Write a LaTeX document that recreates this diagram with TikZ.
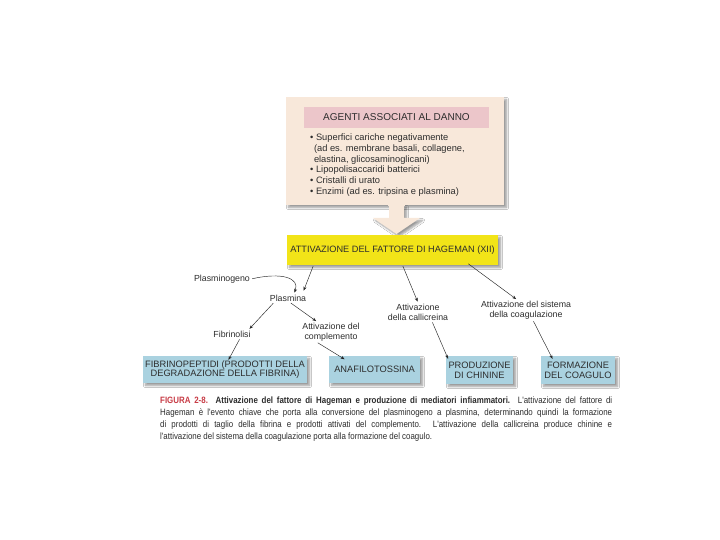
\documentclass[tikz,border=0pt]{standalone}
\usepackage{fontspec}
\setmainfont{Liberation Sans}
\newfontfamily\narrowfont[FakeStretch=0.86]{Liberation Sans}
\usetikzlibrary{arrows.meta,shadows.blur,calc}
\definecolor{beige}{RGB}{248,232,218}
\definecolor{pinkhead}{RGB}{236,198,202}
\definecolor{yelbox}{RGB}{242,228,24}
\definecolor{bluebox}{RGB}{170,210,224}
\definecolor{txt}{RGB}{45,45,45}
\definecolor{figred}{RGB}{200,60,70}
\tikzset{
  softshadow/.style={blur shadow={shadow xshift=2.5pt,shadow yshift=-2.5pt,shadow blur steps=6,shadow opacity=40}},
  beigebox/.style={fill=beige,draw=none,softshadow,inner sep=0pt},
  headbox/.style={fill=pinkhead,draw=none,inner sep=0pt,font=\fontsize{10}{11}\selectfont,text=txt},
  yellowbox/.style={fill=yelbox,draw=none,softshadow,inner sep=0pt,font=\fontsize{9.2}{10}\selectfont,text=txt},
  bluebx/.style={fill=bluebox,draw=none,softshadow,inner sep=0pt,align=center,font=\fontsize{9.3}{9.6}\selectfont,text=txt},
  lbl/.style={inner sep=1pt,align=center,font=\fontsize{8.8}{10}\selectfont,text=txt},
  arr/.style={-{Stealth[length=4pt,width=3pt]},line width=0.45pt,draw=black!85,shorten <=1pt,shorten >=1pt},
}
\begin{document}
\begin{tikzpicture}[x=1pt,y=-1pt]
\useasboundingbox (0,0) rectangle (720,540);
\fill[white] (0,0) rectangle (720,540);
% agents box
\node[beigebox,minimum width=218pt,minimum height=108pt] (agent) at (395,151) {};
\node[headbox,minimum width=185pt,minimum height=21pt] (head) at (396.5,117.5) {AGENTI ASSOCIATI AL DANNO};
\node[anchor=north west,inner sep=0pt,align=left,font=\fontsize{9.3}{10.8}\selectfont,text=txt] (list) at (310,133.5)
 {\textbullet\ Superfici cariche negativamente\\
  \hspace*{3.8pt}(ad es. membrane basali, collagene,\\
  \hspace*{3.8pt}elastina, glicosaminoglicani)\\
  \textbullet\ Lipopolisaccaridi batterici\\
  \textbullet\ Cristalli di urato\\
  \textbullet\ Enzimi (ad es. tripsina e plasmina)};
% big arrow
\fill[beige,softshadow] (389,205) -- (404,205) -- (404,218) -- (420,218) -- (396.5,234) -- (373,218) -- (389,218) -- cycle;
\fill[beige] (388,200) rectangle (405,206);
% yellow box
\node[yellowbox,minimum width=211pt,minimum height=30pt] (hag) at (392.5,250) {ATTIVAZIONE DEL FATTORE DI HAGEMAN (XII)};
% labels
\node[lbl] (plg) at (222,279) {Plasminogeno};
\node[lbl] (pla) at (288,298) {Plasmina};
\node[lbl] (fib) at (232,334) {Fibrinolisi};
\node[lbl] (com) at (331,332) {Attivazione del\\complemento};
\node[lbl] (cal) at (418,312) {Attivazione\\della callicreina};
\node[lbl] (coa) at (526,310) {Attivazione del sistema\\della coagulazione};
% blue boxes
\node[bluebx,minimum width=164pt,minimum height=27pt] (fibro) at (225,369.5) {FIBRINOPEPTIDI (PRODOTTI DELLA\\DEGRADAZIONE DELLA FIBRINA)};
\node[bluebx,minimum width=91pt,minimum height=27pt] (ana) at (374.5,369.5) {ANAFILOTOSSINA};
\node[bluebx,minimum width=67pt,minimum height=28pt] (chi) at (479.5,370) {PRODUZIONE\\DI CHININE};
\node[bluebx,minimum width=74pt,minimum height=28pt] (clot) at (578,370) {FORMAZIONE\\DEL COAGULO};
% connectors
\draw[arr] ([xshift=-79pt]hag.south) -- ([xshift=-4pt,yshift=2pt]pla.north east);
\draw[arr] (plg.east) .. controls (282,272) and (300,278) .. ([xshift=6pt]pla.north);
\draw[arr] ([xshift=-14pt]pla.south) -- ([xshift=-3pt]fib.north east);
\draw[arr] ([xshift=2pt]pla.south) -- ([xshift=-14pt]com.north);
\draw[arr] ([xshift=8pt]fib.south) -- ([xshift=3pt,yshift=-5pt]fibro.north);
\draw[arr] ([xshift=-14pt]com.south) -- ([xshift=-29pt,yshift=-4pt]ana.north);
\draw[arr] ([xshift=10pt]hag.south) -- (cal.north);
\draw[arr] ([xshift=75pt,yshift=2pt]hag.south) -- ([xshift=-9pt]coa.north);
\draw[arr] ([xshift=14pt]cal.south) -- ([xshift=-31pt,yshift=-4pt]chi.north);
\draw[arr] ([xshift=7pt]coa.south) -- ([xshift=-25pt,yshift=-4pt]clot.north);
% caption
\node[anchor=north west,inner sep=0pt,text width=452pt,align=justify,font=\narrowfont\fontsize{9.2}{12}\selectfont,text=txt] (cap) at (160,397)
 {{\color{figred}\textbf{FIGURA 2-8.}} \textbf{Attivazione del fattore di Hageman e produzione di mediatori infiammatori.} L'attivazione del fattore di\linebreak Hageman è l'evento chiave che porta alla conversione del plasminogeno a plasmina, determinando quindi la formazione\linebreak di prodotti di taglio della fibrina e prodotti attivati del complemento. L'attivazione della callicreina produce chinine e\linebreak l'attivazione del sistema della coagulazione porta alla formazione del coagulo.};
\end{tikzpicture}
\end{document}
